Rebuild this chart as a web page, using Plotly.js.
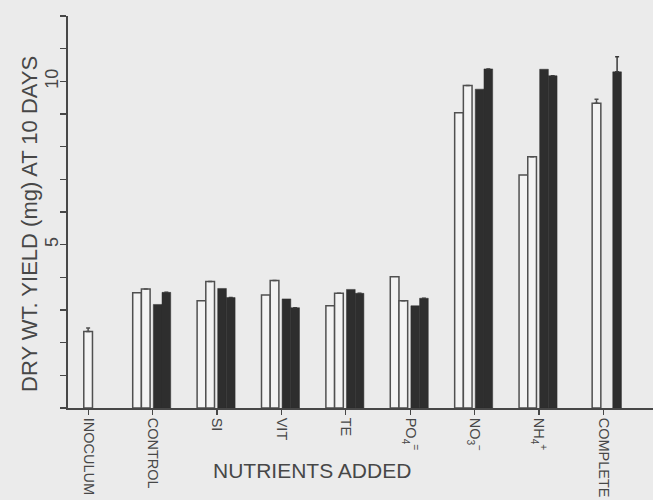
<!DOCTYPE html>
<html>
<head>
<meta charset="utf-8">
<script src="https://cdn.plot.ly/plotly-3.0.1.min.js"></script>
<style>
  html, body { margin: 0; padding: 0; background: #ebebeb; }
  #chart { width: 653px; height: 500px; }
</style>
</head>
<body>
<div id="chart"></div>
<script>
// ---- data ----
const categories = ['INOCULUM', 'CONTROL', 'SI', 'VIT', 'TE', 'PO4', 'NO3', 'NH4', 'COMPLETE'];
const tickLabels = ['INOCULUM', 'CONTROL', 'SI', 'VIT', 'TE',
  'PO<sub>4</sub><sup>=</sup>', 'NO<sub>3</sub><sup>−</sup>', 'NH<sub>4</sub><sup>+</sup>', 'COMPLETE'];

const inoculumValue = [2.34];
const inoculumErr = [0.11];

const openA   = [null, 3.53, 3.28, 3.46, 3.13, 4.02, 9.04, 7.13, null];
const openB   = [null, 3.64, 3.87, 3.90, 3.51, 3.28, 9.87, 7.69, 9.33];
const solidA  = [null, 3.17, 3.66, 3.34, 3.63, 3.13, 9.76, 10.37, null];
const solidB  = [null, 3.54, 3.38, 3.07, 3.51, 3.36, 10.38, 10.17, 10.29];
const openBErr  = [0, 0, 0, 0, 0, 0, 0, 0, 0.12];
const solidBErr = [0, 0, 0, 0, 0, 0, 0, 0, 0.46];

const yTickVals = [5, 10];
const yTickText = ['5', '10'];

// ---- styles ----
const BG = '#ebebeb';
const INK = '#474747';
const OPEN_FILL = '#f3f3f3';
const SOLID_FILL = '#2e2e2e';
const BAR_W = 0.135;

function openBar(name, x, y, offset, err) {
  const t = {
    type: 'bar', name: name, x: x, y: y,
    offset: offset, width: BAR_W,
    marker: { color: OPEN_FILL, line: { color: '#505050', width: 1.5 } },
    showlegend: false, hoverinfo: 'x+y'
  };
  if (err) t.error_y = { type: 'data', symmetric: false, array: err, arrayminus: err.map(() => 0),
                         color: '#505050', thickness: 1.5, width: 2 };
  return t;
}
function solidBar(name, x, y, offset, err) {
  const t = {
    type: 'bar', name: name, x: x, y: y,
    offset: offset, width: BAR_W,
    marker: { color: SOLID_FILL, line: { color: SOLID_FILL, width: 0.5 } },
    showlegend: false, hoverinfo: 'x+y'
  };
  if (err) t.error_y = { type: 'data', symmetric: false, array: err, arrayminus: err.map(() => 0),
                         color: '#3a3a3a', thickness: 1.5, width: 2 };
  return t;
}

const traces = [
  openBar('Inoculum', ['INOCULUM'], inoculumValue, -0.07, inoculumErr),
  openBar('Open A', categories, openA, -0.31),
  openBar('Open B', categories, openB, -0.175, openBErr),
  solidBar('Solid A', categories, solidA, 0.01),
  solidBar('Solid B', categories, solidB, 0.145, solidBErr)
];

const fontFam = '"Liberation Sans", Arial, sans-serif';

const layout = {
  width: 653, height: 500,
  margin: { l: 68, r: 0, t: 16, b: 92, pad: 0 },
  paper_bgcolor: BG, plot_bgcolor: BG,
  barmode: 'overlay',
  showlegend: false,
  font: { family: fontFam, color: INK },
  xaxis: {
    type: 'category',
    categoryorder: 'array', categoryarray: categories,
    range: [-0.315, 8.77],
    tickmode: 'array', tickvals: categories, ticktext: tickLabels,
    tickangle: 90,
    ticks: 'outside', ticklen: 5, tickwidth: 1.2, tickcolor: INK,
    tickfont: { size: 14.5, color: INK, family: fontFam },
    showline: true, linecolor: INK, linewidth: 1.8,
    showgrid: false, zeroline: false, fixedrange: true,
    automargin: false
  },
  yaxis: {
    range: [0, 12],
    tickmode: 'array', tickvals: yTickVals, ticktext: yTickText,
    tickangle: -90,
    ticks: 'outside', ticklen: 6, tickwidth: 1.2, tickcolor: INK,
    ticklabelstandoff: -5,
    tickfont: { size: 18, color: INK, family: fontFam },
    minor: { dtick: 1, tick0: 0, ticks: 'outside', ticklen: 6, tickwidth: 1.2, tickcolor: INK, showgrid: false },
    showline: true, linecolor: INK, linewidth: 1.8,
    showgrid: false, zeroline: false, fixedrange: true,
    automargin: false
  },
  annotations: [
    {
      text: 'NUTRIENTS ADDED', xref: 'paper', yref: 'paper',
      x: (312 - 68) / 585, y: -(470 - 408) / 392,
      xanchor: 'center', yanchor: 'middle', showarrow: false,
      font: { size: 21, color: INK, family: fontFam }
    },
    {
      text: 'DRY WT. YIELD (mg) AT 10 DAYS', xref: 'paper', yref: 'paper',
      x: -(68 - 30) / 585, y: (408 - 224) / 392,
      xanchor: 'center', yanchor: 'middle', textangle: -90, showarrow: false,
      font: { size: 22, color: INK, family: fontFam }
    }
  ]
};

Plotly.newPlot('chart', traces, layout, { staticPlot: true, displayModeBar: false });
</script>
</body>
</html>
